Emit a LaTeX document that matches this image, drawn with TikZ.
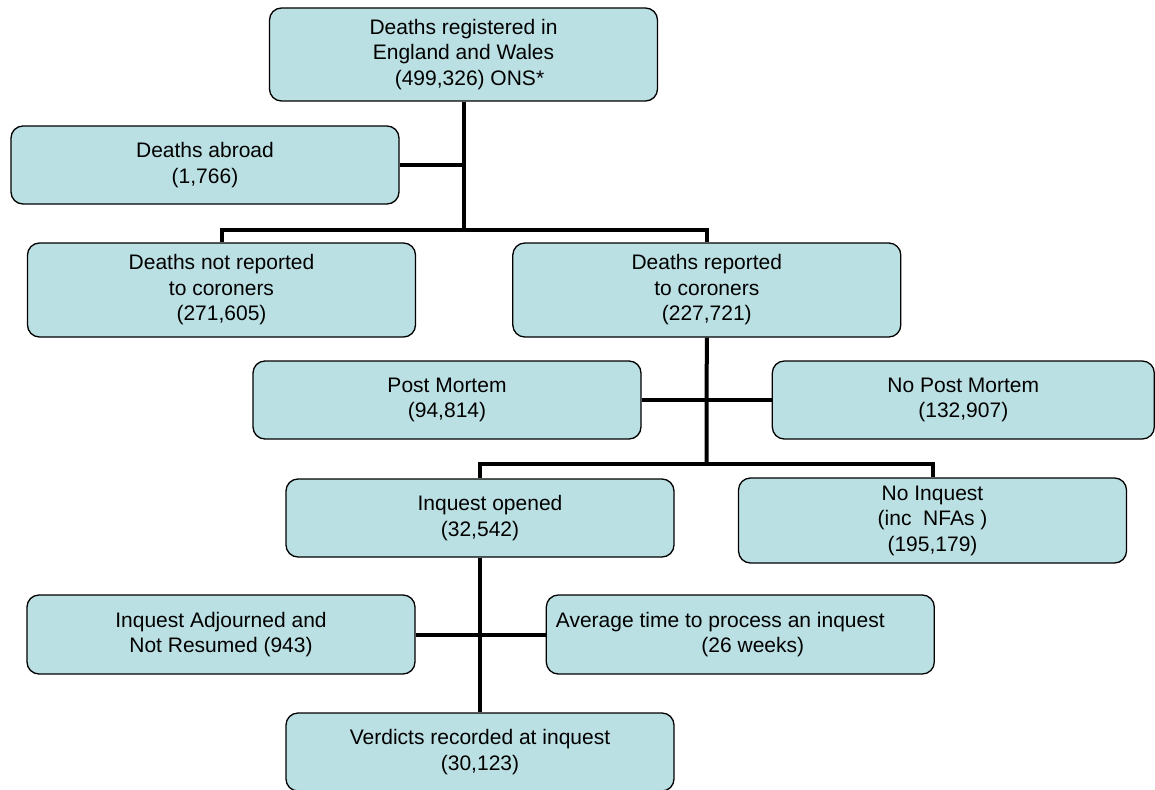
\documentclass[tikz,border=0pt]{standalone}
\usepackage{fontspec}
\setmainfont{Liberation Sans}
\usepackage{xcolor}
\usetikzlibrary{positioning,calc}
\definecolor{boxfill}{RGB}{187,224,227}

\begin{document}
\begin{tikzpicture}[x=1pt,y=-1pt,font=\fontsize{21}{25.5}\selectfont,
  bx/.style={draw,rounded corners=12pt,fill=boxfill,align=center,line width=1.3pt,
    inner sep=2pt,minimum width=388pt,minimum height=78pt},
  ln/.style={line width=4pt}]
\useasboundingbox (0,0) rectangle (1155,789);
\node[bx,minimum height=93pt] (reg) at (463.5,54.5)
  {Deaths registered in\\ England and Wales\\ \hspace*{12pt}(499,326) ONS*};
\node[bx] (abroad) at (205,165) {Deaths abroad\\ (1,766)};
\coordinate (bar1) at (463.5,230);
\node[bx,minimum height=94pt] (notrep) at (221.5,290) {Deaths not reported\\ to coroners\\ (271,605)};
\node[bx,minimum height=94pt,right=96pt of notrep] (rep) {Deaths reported\\ to coroners\\ (227,721)};
\node[bx] (pm) at (447,400) {Post Mortem\\ (94,814)};
\node[bx,minimum width=382pt,right=130pt of pm] (nopm) {No Post Mortem\\ (132,907)};
\coordinate (bar2) at (706.5,464);
\node[bx] (inq) at (480,518) {\hspace*{20pt}Inquest opened\\ (32,542)};
\node[bx,minimum height=85pt] (noinq) at (932.5,520.5) {No Inquest\\ (inc\ \ NFAs )\\ (195,179)};
\node[bx,minimum height=79pt] (adj) at (221,634.5) {Inquest Adjourned and\\ Not Resumed (943)};
\node[bx,minimum height=79pt,right=130pt of adj] (avg)
  {Average time to process an inquest\kern40pt\\ \hspace*{25pt}(26 weeks)};
\node[bx] (verd) at (480,752) {Verdicts recorded at inquest\\ (30,123)};
% connectors
\draw[ln] (reg.south) -- (bar1);
\draw[ln] (abroad.east) -- (abroad.east -| reg.south);
\draw[ln] (notrep.north) -- (notrep.north |- bar1) -- (rep.north |- bar1) -- (rep.north);
\draw[ln] (rep.south) -- (bar2);
\draw[ln] (pm.east) -- (nopm.west);
\draw[ln] (inq.north) -- (inq.north |- bar2) -- (noinq.north |- bar2) -- (noinq.north);
\draw[ln] (inq.south) -- (verd.north);
\draw[ln] (adj.east) -- (avg.west);
\end{tikzpicture}
\end{document}
